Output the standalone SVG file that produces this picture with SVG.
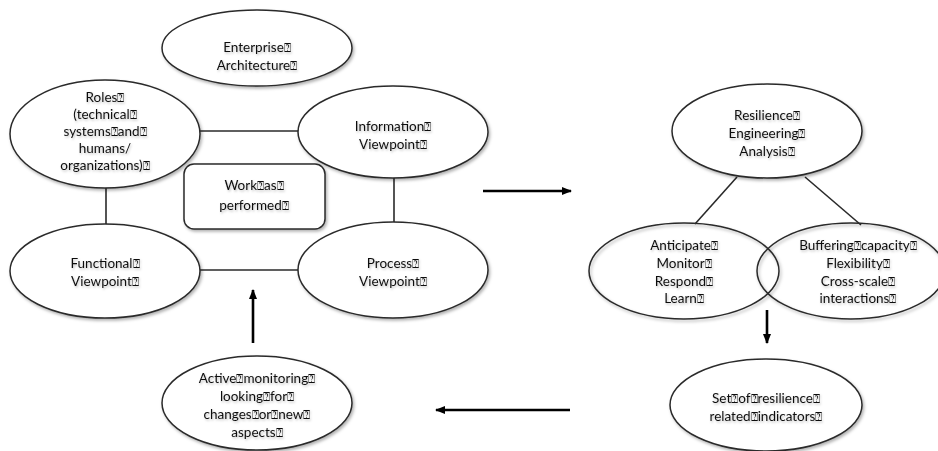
<svg xmlns="http://www.w3.org/2000/svg" width="938" height="451" viewBox="0 0 938 451">
<style>
.n{fill:#fff;stroke:#2a2a2a;stroke-width:1.5;filter:url(#sh)}
.t{font-family:Lato,"Open Sans","Liberation Sans",sans-serif;font-size:13.5px;fill:#111;text-anchor:middle;filter:url(#tsh)}
.b{font-size:12px}
.ln{stroke:#2a2a2a;stroke-width:1.6;fill:none}
.ar{stroke:#000;stroke-width:2.6;fill:none;marker-end:url(#ah)}
</style>
<defs>
<filter id="sh" x="-10%" y="-10%" width="125%" height="130%">
<feDropShadow dx="1.5" dy="2" stdDeviation="1.5" flood-color="#000" flood-opacity="0.3"/>
</filter>
<filter id="tsh" x="-10%" y="-20%" width="125%" height="150%">
<feDropShadow dx="1" dy="1.5" stdDeviation="1.2" flood-color="#000" flood-opacity="0.25"/>
</filter>
<marker id="ah" viewBox="0 0 10 10" refX="9" refY="5" markerWidth="4" markerHeight="4" orient="auto" markerUnits="strokeWidth">
<path d="M0,1 L10,5 L0,9 Z" fill="#000"/>
</marker>
</defs>
<g id="connectors">
<line class="ln" x1="200" y1="131" x2="299" y2="131"/>
<line class="ln" x1="106" y1="188" x2="106" y2="226"/>
<line class="ln" x1="394" y1="178" x2="394" y2="223"/>
<line class="ln" x1="200" y1="270" x2="299" y2="270"/>
<line class="ln" x1="737" y1="177" x2="695" y2="224"/>
<line class="ln" x1="805" y1="177" x2="861" y2="225"/>
<line class="ar" x1="253" y1="343" x2="253" y2="290"/>
<line class="ar" x1="483" y1="191" x2="571" y2="191"/>
<line class="ar" x1="767" y1="310" x2="767" y2="343"/>
<line class="ar" x1="570" y1="410" x2="436" y2="410"/>
</g>
<g id="enterprise">
<ellipse class="n" cx="257" cy="48" rx="95" ry="38"/>
<text class="t" x="257" y="52">Enterprise<tspan class="b">⍰</tspan></text>
<text class="t" x="257" y="70">Architecture<tspan class="b">⍰</tspan></text>
</g>
<g id="roles">
<ellipse class="n" cx="105" cy="134" rx="95" ry="54"/>
<text class="t" x="105" y="102">Roles<tspan class="b">⍰</tspan></text>
<text class="t" x="105" y="119">(technical<tspan class="b">⍰</tspan></text>
<text class="t" x="105" y="136">systems<tspan class="b">⍰</tspan>and<tspan class="b">⍰</tspan></text>
<text class="t" x="105" y="153">humans/</text>
<text class="t" x="105" y="170">organizations)<tspan class="b">⍰</tspan></text>
</g>
<g id="information">
<ellipse class="n" cx="393" cy="132" rx="95" ry="46"/>
<text class="t" x="393" y="131">Information<tspan class="b">⍰</tspan></text>
<text class="t" x="393" y="149">Viewpoint<tspan class="b">⍰</tspan></text>
</g>
<g id="work">
<rect class="n" x="184" y="164" width="141" height="65" rx="10"/>
<text class="t" x="254" y="190">Work<tspan class="b">⍰</tspan>as<tspan class="b">⍰</tspan></text>
<text class="t" x="254" y="210">performed<tspan class="b">⍰</tspan></text>
</g>
<g id="functional">
<ellipse class="n" cx="105" cy="271" rx="95" ry="47"/>
<text class="t" x="105" y="268">Functional<tspan class="b">⍰</tspan></text>
<text class="t" x="105" y="286">Viewpoint<tspan class="b">⍰</tspan></text>
</g>
<g id="process">
<ellipse class="n" cx="393" cy="270" rx="95" ry="48"/>
<text class="t" x="393" y="268">Process<tspan class="b">⍰</tspan></text>
<text class="t" x="393" y="286">Viewpoint<tspan class="b">⍰</tspan></text>
</g>
<g id="active">
<ellipse class="n" cx="257" cy="403" rx="95" ry="47"/>
<text class="t" x="257" y="383">Active<tspan class="b">⍰</tspan>monitoring<tspan class="b">⍰</tspan></text>
<text class="t" x="257" y="401">looking<tspan class="b">⍰</tspan>for<tspan class="b">⍰</tspan></text>
<text class="t" x="257" y="419">changes<tspan class="b">⍰</tspan>or<tspan class="b">⍰</tspan>new<tspan class="b">⍰</tspan></text>
<text class="t" x="257" y="437">aspects<tspan class="b">⍰</tspan></text>
</g>
<g id="resilience">
<ellipse class="n" cx="767" cy="131" rx="95" ry="47"/>
<text class="t" x="767" y="120">Resilience<tspan class="b">⍰</tspan></text>
<text class="t" x="767" y="138">Engineering<tspan class="b">⍰</tspan></text>
<text class="t" x="767" y="156">Analysis<tspan class="b">⍰</tspan></text>
</g>
<g id="anticipate">
<ellipse class="n" cx="684" cy="271" rx="95" ry="48" style="fill:none"/>
<text class="t" x="684" y="250">Anticipate<tspan class="b">⍰</tspan></text>
<text class="t" x="684" y="268">Monitor<tspan class="b">⍰</tspan></text>
<text class="t" x="684" y="286">Respond<tspan class="b">⍰</tspan></text>
<text class="t" x="684" y="303">Learn<tspan class="b">⍰</tspan></text>
</g>
<g id="buffering">
<ellipse class="n" cx="851" cy="271" rx="94" ry="48" style="fill:none"/>
<text class="t" x="858" y="250">Buffering<tspan class="b">⍰</tspan>capacity<tspan class="b">⍰</tspan></text>
<text class="t" x="858" y="268">Flexibility<tspan class="b">⍰</tspan></text>
<text class="t" x="858" y="286">Cross-scale<tspan class="b">⍰</tspan></text>
<text class="t" x="858" y="303">interactions<tspan class="b">⍰</tspan></text>
</g>
<g id="indicators">
<ellipse class="n" cx="766" cy="405" rx="96" ry="46"/>
<text class="t" x="766" y="403">Set<tspan class="b">⍰</tspan>of<tspan class="b">⍰</tspan>resilience<tspan class="b">⍰</tspan></text>
<text class="t" x="766" y="421">related<tspan class="b">⍰</tspan>indicators<tspan class="b">⍰</tspan></text>
</g>
</svg>
